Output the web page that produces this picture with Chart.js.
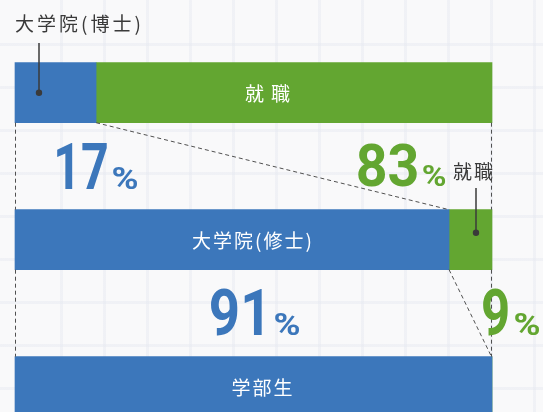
<!DOCTYPE html>
<html lang="ja">
<head>
<meta charset="utf-8">
<title>進路状況</title>
<script src="https://cdn.jsdelivr.net/npm/chart.js@4.4.1/dist/chart.umd.min.js"></script>
<style>
    html, body { margin: 0; padding: 0; }
    body {
        width: 543px; height: 412px; overflow: hidden;
        background-color: #f9f9fa;
        background-image:
            repeating-linear-gradient( 90deg, transparent 0 40px, rgba( 228, 231, 239, 0.4 ) 40px 43px ),
            repeating-linear-gradient( 0deg, transparent 0 40px, rgba( 228, 231, 239, 0.4 ) 40px 43px );
        background-position: 20px 18px;
    }
    #wrap { position: relative; width: 543px; height: 412px; }
</style>
</head>
<body>
<div id="wrap"><canvas id="course-chart"></canvas></div>
<script>
// data
const categories = [ '大学院(博士)', '大学院(修士)', '学部生' ];
const advanced = [ 17, 91, 100 ];   // blue: next stage
const employed = [ 83, 9, 0 ];      // green: 就職
const employedLabel = '就職';

const BLUE = '#3c77bb';
const GREEN = '#63a631';
const INK = '#3a3a3a';
const JP = '"Noto Sans CJK JP", "Noto Sans", sans-serif';

// big percentage spots: ink box left/right, baseline, cap height, gap before %
const pctSpots = [
    [ { x0: 57, x1: 107, base: 189, cap: 47, gap: 6 }, { x0: 358, x1: 417, base: 186, cap: 43, gap: 6 } ],
    [ { x0: 211, x1: 262, base: 335, cap: 47, gap: 13 }, { x0: 483, x1: 508, base: 335, cap: 47, gap: 7 } ]
];
// label spots
const insideX = [ 268, 252, 262 ];
const callouts = [
    { bar: 0, ds: 0, tx: 15, ty: 24, lx: 39, ly: 43, dy: 0, spacing: 3 },
    { bar: 1, ds: 1, tx: 453, ty: 172, lx: 476, ly: 188, dy: -7, spacing: 2 }
];

function fitText( ctx, txt, x0, x1, base, cap, weight ) {
    ctx.font = weight + ' 100px Roboto';
    const m = ctx.measureText( txt );
    const sy = cap / m.actualBoundingBoxAscent;
    const inkW = m.actualBoundingBoxLeft + m.actualBoundingBoxRight;
    const sx = ( x1 - x0 ) / inkW;
    ctx.save();
    ctx.translate( x0 + m.actualBoundingBoxLeft * sx, base );
    ctx.scale( sx, sy );
    ctx.fillText( txt, 0, 0 );
    ctx.restore();
}

function drawPct( ctx, value, spot, color ) {
    ctx.fillStyle = color;
    ctx.textAlign = 'left';
    ctx.textBaseline = 'alphabetic';
    fitText( ctx, String( value ), spot.x0, spot.x1, spot.base, spot.cap, 'bold' );
    const pc = spot.cap * 0.49;
    const px = spot.x1 + spot.gap;
    fitText( ctx, '%', px, px + pc * 1.05, spot.base, pc, 'bold' );
}

function dashed( ctx, x0, y0, x1, y1 ) {
    ctx.beginPath();
    ctx.moveTo( x0, y0 );
    ctx.lineTo( x1, y1 );
    ctx.stroke();
}

const overlayPlugin = {
    id: 'overlay',
    afterDatasetsDraw( chart ) {
        const ctx = chart.ctx;
        const metas = [ chart.getDatasetMeta( 0 ).data, chart.getDatasetMeta( 1 ).data ];
        const blue = metas[ 0 ];
        const left = chart.chartArea.left + 0.5;
        const right = chart.chartArea.right - 0.5;
        ctx.save();
        //
        ctx.strokeStyle = '#505050';
        ctx.lineWidth = 1;
        ctx.setLineDash( [ 4, 3 ] );
        for ( let i = 0; i < blue.length - 1; i++ ) {
            const y0 = blue[ i ].y + blue[ i ].height / 2;
            const y1 = blue[ i + 1 ].y - blue[ i + 1 ].height / 2;
            dashed( ctx, left, y0, left, y1 );
            dashed( ctx, right, y0, right, y1 );
            dashed( ctx, blue[ i ].x, y0, Math.min( blue[ i + 1 ].x, right ), y1 );
        }
        ctx.setLineDash( [] );
        //
        for ( let i = 0; i < pctSpots.length; i++ ) {
            drawPct( ctx, advanced[ i ], pctSpots[ i ][ 0 ], BLUE );
            drawPct( ctx, employed[ i ], pctSpots[ i ][ 1 ], GREEN );
        }
        //
        ctx.fillStyle = '#ffffff';
        ctx.textAlign = 'center';
        ctx.textBaseline = 'middle';
        ctx.font = '19px ' + JP;
        for ( let i = 0; i < categories.length; i++ ) {
            const names = [ categories[ i ], employedLabel ];
            for ( let d = 0; d < 2; d++ ) {
                const el = metas[ d ][ i ];
                if ( Math.abs( el.x - el.base ) < 150 ) continue;
                ctx.letterSpacing = d === 1 ? '7px' : '2px';
                ctx.fillText( names[ d ], insideX[ i ] + ( d === 1 ? 3 : 1 ), el.y + 1 );
            }
        }
        //
        ctx.textAlign = 'left';
        for ( const c of callouts ) {
            const el = metas[ c.ds ][ c.bar ];
            const name = c.ds === 0 ? categories[ c.bar ] : employedLabel;
            ctx.fillStyle = INK;
            ctx.letterSpacing = c.spacing + 'px';
            ctx.font = '19px ' + JP;
            ctx.fillText( name, c.tx, c.ty );
            ctx.strokeStyle = INK;
            ctx.lineWidth = 1.5;
            dashed( ctx, c.lx, c.ly, c.lx, el.y + c.dy );
            ctx.beginPath();
            ctx.arc( c.lx, el.y + c.dy, 3.2, 0, Math.PI * 2 );
            ctx.fill();
        }
        ctx.restore();
    }
};

window.addEventListener( 'load', function () {
    //
    const plot = document.querySelector( '#course-chart' );
    //
    new Chart( plot, {
        type: 'bar',
        data: {
            labels: categories,
            datasets: [
                { label: '進学', data: advanced, backgroundColor: BLUE, barThickness: 60, clip: false },
                { label: employedLabel, data: employed, backgroundColor: GREEN, barThickness: 60, clip: false }
            ]
        },
        options: {
            indexAxis: 'y',
            responsive: true,
            maintainAspectRatio: false,
            animation: false,
            layout: { padding: { top: 92.7, bottom: 25.3, left: 15, right: 51 } },
            scales: {
                x: { stacked: true, min: 0, max: 100, display: false },
                y: { stacked: true, display: false, offset: false }
            },
            plugins: {
                legend: { display: false },
                tooltip: { enabled: false }
            }
        },
        plugins: [ overlayPlugin ]
    });
    //
}, false );
</script>
</body>
</html>
